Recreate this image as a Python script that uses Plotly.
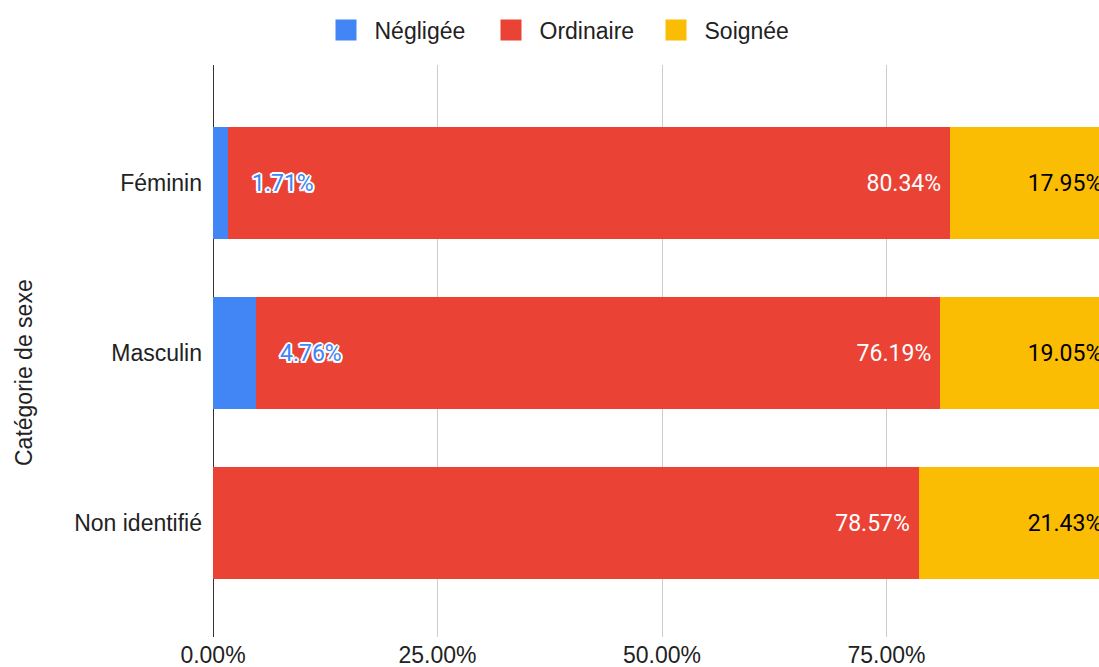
import plotly.graph_objects as go

categories = ["Féminin", "Masculin", "Non identifié"]
negligee = [0.0171, 0.0476, 0.0]
ordinaire = [0.8034, 0.7619, 0.7857]
soignee = [0.1795, 0.1905, 0.2143]
x_ticks = [0, 0.25, 0.5, 0.75, 1.0]
y_title = "Catégorie de sexe"

series = [
    ("Négligée", negligee, "#4285F4", None),
    ("Ordinaire", ordinaire, "#EA4335", "#ffffff"),
    ("Soignée", soignee, "#FBBC04", "#000000"),
]

LABEL_FONT = "Arial, Liberation Sans, sans-serif"
DATA_FONT = "Roboto, sans-serif"

fig = go.Figure()
for name, vals, color, tcolor in series:
    if tcolor is not None:
        kw = dict(
            texttemplate="%{x:.2%}\u00a0",
            textposition="inside",
            insidetextanchor="end",
            textangle=0,
            constraintext="none",
            insidetextfont=dict(family=DATA_FONT, size=23, color=tcolor, weight=400),
        )
    else:
        kw = dict(textposition="none")
    fig.add_trace(go.Bar(
        y=categories, x=vals, name=name, orientation="h",
        marker=dict(color=color, line=dict(width=0)),
        showlegend=False, hoverinfo="x+name", **kw,
    ))

# legend entries with larger squares
for name, vals, color, _ in series:
    fig.add_trace(go.Scatter(
        x=[None], y=[None], mode="markers", name=name,
        marker=dict(symbol="square", size=16, color=color,
                    line=dict(color=color, width=5)),
        showlegend=True, hoverinfo="skip",
    ))

# outlined labels for the small first segment
for cat, v in zip(categories, negligee):
    if v > 0:
        fig.add_annotation(
            x=v, y=cat, xref="x", yref="y", text=f"{v:.2%}",
            showarrow=False, xanchor="left", yanchor="middle", xshift=22,
            font=dict(family=DATA_FONT, size=23, color="#4285F4", weight=400,
                      shadow="2px 0 0 #fff, -2px 0 0 #fff, 0 2px 0 #fff, 0 -2px 0 #fff, "
                             "1.5px 1.5px 0 #fff, -1.5px -1.5px 0 #fff, 1.5px -1.5px 0 #fff, -1.5px 1.5px 0 #fff"),
        )

W, H = 1099, 667
L, T, B = 213, 65, 30
x_right = (W - L) / 898.0
PW, PH = W - L, H - T - B

# vertical axis title
fig.add_annotation(
    text=y_title, xref="paper", yref="paper",
    x=(24 - L) / PW, y=(H - B - 373) / PH,
    xanchor="center", yanchor="middle", textangle=-90, showarrow=False,
    font=dict(family=LABEL_FONT, size=23, color="#222222"),
)

fig.update_layout(
    width=W, height=H,
    margin=dict(l=L, r=0, t=T, b=B, autoexpand=False),
    paper_bgcolor="#ffffff", plot_bgcolor="#ffffff",
    barmode="stack", bargap=0.341,
    font=dict(family=LABEL_FONT, size=23, color="#222222"),
    legend=dict(
        orientation="h", xref="container", yref="container",
        x=565 / W, xanchor="center", y=1 - 30 / H, yanchor="middle",
        font=dict(family=LABEL_FONT, size=23, color="#222222"),
        itemsizing="trace", traceorder="normal",
        itemwidth=47, entrywidth=103, entrywidthmode="pixels",
    ),
    xaxis=dict(
        range=[0, x_right], tickvals=x_ticks, tickformat=".2%",
        showgrid=True, gridcolor="#cccccc", gridwidth=1,
        zeroline=True, zerolinecolor="#333333", zerolinewidth=1,
        showline=False, ticks="", automargin=False,
        tickfont=dict(family=LABEL_FONT, size=23, color="#222222"),
        ticklabelstandoff=2,
    ),
    yaxis=dict(
        type="category", categoryorder="array", categoryarray=categories,
        range=[2.67, -0.694], showgrid=False, zeroline=False,
        showline=False, ticks="", automargin=False,
        tickfont=dict(family=LABEL_FONT, size=23, color="#222222"),
        ticklabelstandoff=10,
    ),
)

fig.write_html(
    "out.html",
    config={"displayModeBar": False},
    post_script="document.body.style.margin='0';document.body.style.overflow='hidden';",
)
